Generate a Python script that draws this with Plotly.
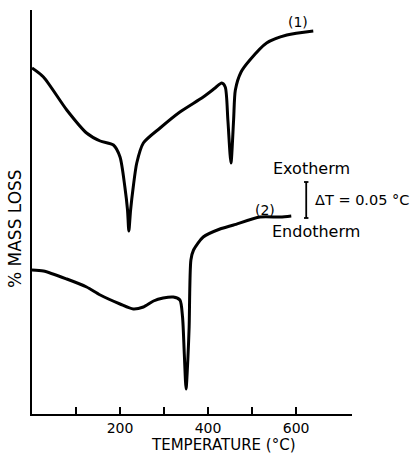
import plotly.graph_objects as go

# Curve (1)
temp_1 = [0, 26, 79, 124, 155, 185, 200, 211, 217, 220, 224, 230, 238, 253, 291, 336,
          389, 416, 431, 439, 445, 452, 458, 462, 475, 495, 533, 579, 639]
signal_1 = [346, 337, 304, 281, 273, 269, 257, 227, 204, 183, 204, 227, 251, 271, 286, 302,
            317, 326, 331, 327, 294, 251, 294, 324, 342, 354, 371, 379, 383]

# Curve (2)
temp_2 = [0, 26, 79, 124, 155, 200, 230, 253, 276, 298, 321, 336, 342, 346, 350, 354,
          357, 361, 367, 389, 427, 458, 518, 564, 589]
signal_2 = [144, 143, 135, 127, 119, 110, 105, 107, 113, 116, 117, 114, 97, 60, 25, 54,
            87, 154, 164, 177, 185, 189, 197, 197, 198]

tick_vals = [100, 200, 300, 400, 500, 600]
tick_text = ["", "200", "", "400", "", "600"]

X_RANGE = [0, 727]
Y_RANGE = [0, 404]

# scale bar (ΔT) position in data units
bar_T = 623
bar_low = 196
bar_high = 232

FONT = "DejaVu Sans"
fig = go.Figure()
for t, s in [(temp_1, signal_1), (temp_2, signal_2)]:
    fig.add_trace(go.Scatter(x=t, y=s, mode="lines",
                             line=dict(color="black", width=3, shape="spline", smoothing=0.7),
                             showlegend=False, hoverinfo="skip"))

# scale bar
fig.add_trace(go.Scatter(x=[bar_T - 5, bar_T + 5, None, bar_T, bar_T, None, bar_T - 5, bar_T + 5],
                         y=[bar_high, bar_high, None, bar_high, bar_low, None, bar_low, bar_low],
                         mode="lines", line=dict(color="black", width=1.8),
                         showlegend=False, hoverinfo="skip", cliponaxis=False))


def px(t):
    return (t - X_RANGE[0]) / (X_RANGE[1] - X_RANGE[0])


def py(v):
    return (v - Y_RANGE[0]) / (Y_RANGE[1] - Y_RANGE[0])


ann = [
    dict(x=604, y=392, text="(1)", size=14, angle=0),
    dict(x=529, y=204, text="(2)", size=14, angle=0),
    dict(x=634, y=246, text="Exotherm", size=16, angle=0),
    dict(x=645, y=183, text="Endotherm", size=16, angle=0),
    dict(x=750, y=214, text="ΔT = 0.05 °C", size=14.5, angle=0),
    dict(x=436, y=-31, text="TEMPERATURE (°C)", size=15, angle=0),
    dict(x=-38.6, y=185, text="% MASS LOSS", size=17, angle=-90),
]
for a in ann:
    fig.add_annotation(x=px(a["x"]), y=py(a["y"]), xref="paper", yref="paper", text=a["text"],
                       textangle=a["angle"], showarrow=False,
                       font=dict(family=FONT, size=a["size"], color="black"),
                       xanchor="center", yanchor="middle")

fig.update_layout(
    width=413, height=454,
    margin=dict(l=32, r=61, t=10, b=40),
    paper_bgcolor="white", plot_bgcolor="white",
    font=dict(family=FONT, color="black"),
    xaxis=dict(range=X_RANGE, showline=True, linecolor="black", linewidth=2,
               ticks="inside", ticklen=7, tickwidth=2, tickcolor="black",
               tickvals=tick_vals, ticktext=tick_text, tickfont=dict(size=14),
               showgrid=False, zeroline=False),
    yaxis=dict(range=Y_RANGE, showline=True, linecolor="black", linewidth=1.5,
               showticklabels=False, ticks="", showgrid=False, zeroline=False),
)
fig.write_html("out.html")
